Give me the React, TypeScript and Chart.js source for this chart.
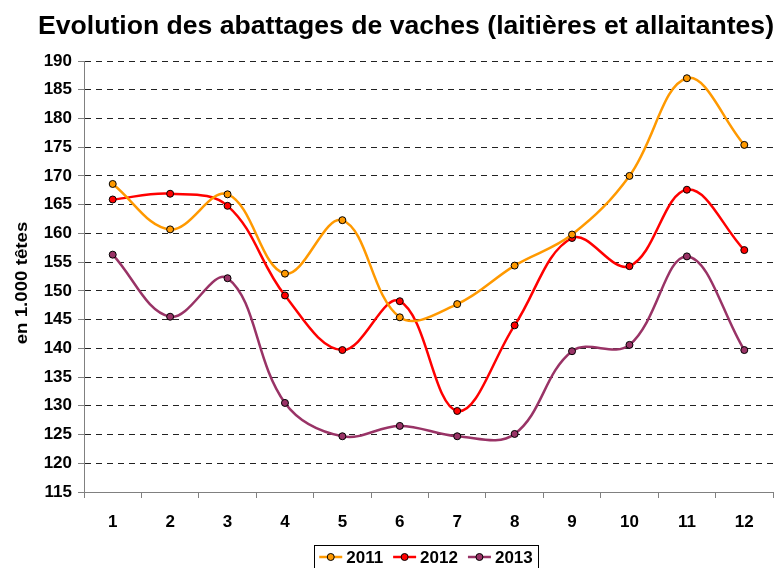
import React, { useEffect, useRef } from 'react';
import { Chart, registerables } from 'chart.js';

Chart.register(...registerables);

const months = ['1', '2', '3', '4', '5', '6', '7', '8', '9', '10', '11', '12'];
const series2011 = [168.6, 160.7, 166.8, 153.0, 162.3, 145.4, 147.7, 154.4, 159.8, 170.0, 187.0, 175.4];
const series2012 = [165.9, 166.9, 164.8, 149.2, 139.7, 148.2, 129.1, 144.0, 159.2, 154.3, 167.6, 157.1];
const series2013 = [156.3, 145.5, 152.2, 130.5, 124.7, 126.5, 124.7, 125.1, 139.5, 140.6, 156.0, 139.7];
const seriesNames = ['2011', '2012', '2013'];
const seriesColors = ['#FF9900', '#FF0000', '#993366'];
const titleText = 'Evolution des abattages de vaches (laitières et allaitantes)';
const yTitle = 'en 1.000 têtes';

const FONT = '"Liberation Sans", Arial, sans-serif';

const overlayPlugin = {
  id: 'overlay',
  afterDraw(chart: any) {
    const ctx = chart.ctx;
    ctx.save();
    // title
    ctx.fillStyle = '#000';
    ctx.font = `bold 26.6px ${FONT}`;
    ctx.textAlign = 'center';
    ctx.textBaseline = 'middle';
    ctx.fillText(titleText, 406, 27);

    // y axis title
    ctx.save();
    ctx.translate(22, 283);
    ctx.rotate(-Math.PI / 2);
    ctx.scale(1.1, 1);
    ctx.font = `bold 17px ${FONT}`;
    ctx.textAlign = 'center';
    ctx.textBaseline = 'middle';
    ctx.fillText(yTitle, 0, 0);
    ctx.restore();

    // legend
    ctx.font = `bold 17px ${FONT}`;
    ctx.textAlign = 'left';
    ctx.textBaseline = 'middle';
    const widths = seriesNames.map((n) => ctx.measureText(n).width);
    const lineLen = 23;
    const gapAfterLine = 4;
    const gapBetween = 10;
    let total = 0;
    widths.forEach((w, i) => {
      total += lineLen + gapAfterLine + w + (i < widths.length - 1 ? gapBetween : 0);
    });
    const padX = 5;
    const cx = 426;
    let x = cx - total / 2;
    const cy = 557;
    ctx.strokeStyle = '#000';
    ctx.lineWidth = 1;
    ctx.strokeRect(Math.round(x - padX) + 0.5, 545.5, Math.round(total + 2 * padX), 30);
    seriesNames.forEach((n, i) => {
      ctx.strokeStyle = seriesColors[i];
      ctx.lineWidth = 2.5;
      ctx.beginPath();
      ctx.moveTo(x, cy);
      ctx.lineTo(x + lineLen, cy);
      ctx.stroke();
      ctx.beginPath();
      ctx.arc(x + lineLen / 2, cy, 3.5, 0, Math.PI * 2);
      ctx.fillStyle = seriesColors[i];
      ctx.fill();
      ctx.lineWidth = 1;
      ctx.strokeStyle = '#000';
      ctx.stroke();
      x += lineLen + gapAfterLine;
      ctx.fillStyle = '#000';
      ctx.fillText(n, x, cy + 1);
      x += widths[i] + gapBetween;
    });
    ctx.restore();
  },
};

export default function App() {
  const ref = useRef<HTMLCanvasElement>(null);
  useEffect(() => {
    document.body.style.margin = '0';
    const canvas = ref.current!;
    const mk = (label: string, data: number[], color: string) => ({
      label,
      data,
      borderColor: color,
      backgroundColor: color,
      borderWidth: 2.5,
      pointRadius: 3.5,
      pointBackgroundColor: color,
      pointBorderColor: '#000',
      pointBorderWidth: 1,
      tension: 0.38,
      fill: false,
    });
    const chart = new Chart(canvas, {
      type: 'line',
      data: {
        labels: months,
        datasets: [
          mk(seriesNames[0], series2011, seriesColors[0]),
          mk(seriesNames[1], series2012, seriesColors[1]),
          mk(seriesNames[2], series2013, seriesColors[2]),
        ],
      },
      options: {
        animation: false,
        responsive: false,
        maintainAspectRatio: false,
        layout: { padding: { left: 0, right: 6, top: 61, bottom: 0 } },
        plugins: {
          legend: { display: false },
          title: { display: false },
          tooltip: { enabled: false },
        },
        scales: {
          x: {
            type: 'category',
            offset: true,
            afterFit: (s: any) => {
              s.height = 76;
            },
            grid: {
              offset: true,
              drawOnChartArea: false,
              drawTicks: true,
              tickLength: 6,
              color: '#808080',
            },
            border: { display: true, color: '#808080', width: 1 },
            ticks: {
              color: '#000',
              padding: 14,
              font: { family: FONT, size: 17, weight: 'bold' },
              maxRotation: 0,
            },
          },
          y: {
            min: 115,
            max: 190,
            afterFit: (s: any) => {
              s.width = 84;
            },
            ticks: {
              stepSize: 5,
              color: '#000',
              padding: 6,
              font: { family: FONT, size: 17, weight: 'bold' },
            },
            grid: {
              color: '#222',
              drawTicks: true,
              tickLength: 6,
              tickColor: '#808080',
            },
            border: { display: true, color: '#808080', width: 1, dash: [6, 5] },
            title: { display: false },
          },
        },
      },
      plugins: [overlayPlugin],
    } as any);
    return () => chart.destroy();
  }, []);
  return <canvas ref={ref} width={779} height={568} style={{ display: 'block' }} />;
}
